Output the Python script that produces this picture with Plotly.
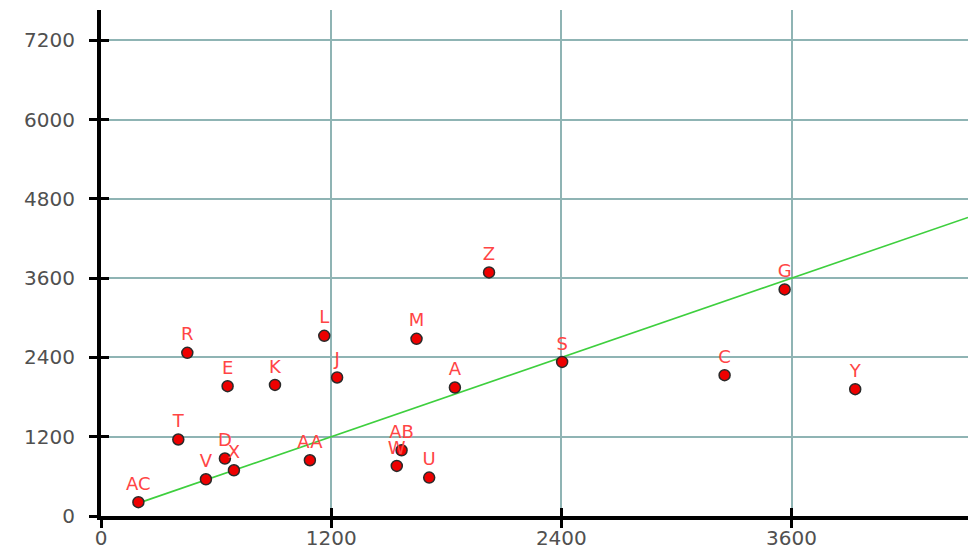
import plotly.graph_objects as go

# Data
labels = ["A", "C", "D", "E", "G", "J", "K", "L", "M", "R", "S", "T", "U", "V",
          "W", "X", "Y", "Z", "AA", "AB", "AC"]
x_vals = [1845, 3251, 646, 660, 3564, 1231, 907, 1164, 1645, 450, 2404, 403, 1711, 547,
          1542, 693, 3932, 2023, 1089, 1567, 195]
y_vals = [1945, 2132, 870, 1965, 3430, 2097, 1985, 2727, 2682, 2470, 2333, 1158, 582, 556,
          758, 692, 1920, 3688, 844, 995, 210]

tick_vals_x = [0, 1200, 2400, 3600]
tick_vals_y = [0, 1200, 2400, 3600, 4800, 6000, 7200]

X_MAX = 4520
Y_MAX = 7660
fit_slope = 1.0
line_x = [min(x_vals), X_MAX]
line_y = [fit_slope * v for v in line_x]

fig = go.Figure()

fig.add_trace(go.Scatter(
    x=line_x, y=line_y, mode="lines",
    line=dict(color="#3ecf3e", width=1.6),
    hoverinfo="skip", showlegend=False,
))

fig.add_trace(go.Scatter(
    x=x_vals, y=y_vals, mode="markers+text",
    text=labels, textposition="top center",
    textfont=dict(family="DejaVu Sans", size=18, color="#ff4545"),
    marker=dict(size=11, color="#ee0000", line=dict(color="#2a2a2a", width=1.5)),
    showlegend=False,
))

# invisible trace for overlay axes (inside ticks)
fig.add_trace(go.Scatter(x=[0], y=[0], xaxis="x2", yaxis="y2", mode="markers",
                         marker=dict(opacity=0), hoverinfo="skip", showlegend=False))

tickfont = dict(family="DejaVu Sans", size=20, color="#505050")

fig.update_layout(
    width=968, height=550,
    margin=dict(l=101, r=0, t=10, b=34, autoexpand=False),
    paper_bgcolor="white", plot_bgcolor="white",
    xaxis=dict(
        range=[0, X_MAX], tickvals=tick_vals_x, ticks="outside", ticklen=8,
        tickwidth=3, tickcolor="black", showline=True, linecolor="black", linewidth=4,
        showgrid=True, gridcolor="#8fb4b4", gridwidth=2, zeroline=False,
        tickfont=tickfont, ticklabelstandoff=-7, automargin=False,
    ),
    yaxis=dict(
        range=[0, Y_MAX], tickvals=tick_vals_y, ticks="outside", ticklen=8,
        tickwidth=3, tickcolor="black", showline=True, linecolor="black", linewidth=4,
        showgrid=True, gridcolor="#8fb4b4", gridwidth=2, zeroline=False,
        tickfont=tickfont, ticklabelstandoff=10, automargin=False,
    ),
    xaxis2=dict(
        range=[0, X_MAX], tickvals=tick_vals_x, ticks="inside", ticklen=8,
        tickwidth=3, tickcolor="black", showticklabels=False, showgrid=False,
        zeroline=False, overlaying="x", anchor="y2", side="bottom", automargin=False,
    ),
    yaxis2=dict(
        range=[0, Y_MAX], tickvals=tick_vals_y, ticks="inside", ticklen=8,
        tickwidth=3, tickcolor="black", showticklabels=False, showgrid=False,
        zeroline=False, overlaying="y", anchor="x2", side="left", automargin=False,
    ),
)

fig.write_html(
    "out.html",
    config={"displayModeBar": False},
    post_script="document.body.style.margin='0';document.body.style.overflow='hidden';",
)
